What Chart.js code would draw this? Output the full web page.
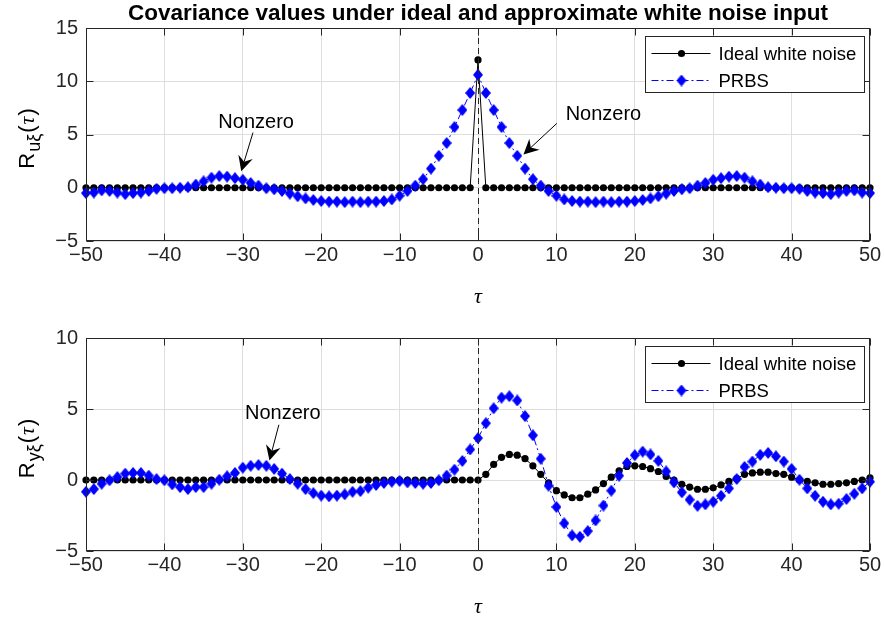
<!DOCTYPE html>
<html>
<head>
<meta charset="utf-8">
<script src="https://cdn.jsdelivr.net/npm/chart.js@4.4.0/dist/chart.umd.min.js"></script>
<style>
  html, body { margin: 0; padding: 0; background: #fff; }
  #wrap { position: relative; width: 884px; height: 619px; }
  .pane { position: absolute; left: 0; width: 884px; }
</style>
</head>
<body>
<div id="wrap">
  <div class="pane" style="top:0;height:310px"><canvas id="topChart" width="884" height="310"></canvas></div>
  <div class="pane" style="top:310px;height:309px"><canvas id="bottomChart" width="884" height="309"></canvas></div>
</div>
<script>
// lag axis
const tau = [
  -50, -49, -48, -47, -46, -45, -44, -43, -42, -41,
  -40, -39, -38, -37, -36, -35, -34, -33, -32, -31,
  -30, -29, -28, -27, -26, -25, -24, -23, -22, -21,
  -20, -19, -18, -17, -16, -15, -14, -13, -12, -11,
  -10, -9, -8, -7, -6, -5, -4, -3, -2, -1,
  0,
  1, 2, 3, 4, 5, 6, 7, 8, 9, 10,
  11, 12, 13, 14, 15, 16, 17, 18, 19, 20,
  21, 22, 23, 24, 25, 26, 27, 28, 29, 30,
  31, 32, 33, 34, 35, 36, 37, 38, 39, 40,
  41, 42, 43, 44, 45, 46, 47, 48, 49, 50
];

// R_u xi (top panel)
const ruIdeal = [
  0, 0, 0, 0, 0, 0, 0, 0, 0, 0,
  0, 0, 0, 0, 0, 0, 0, 0, 0, 0,
  0, 0, 0, 0, 0, 0, 0, 0, 0, 0,
  0, 0, 0, 0, 0, 0, 0, 0, 0, 0,
  0, 0, 0, 0, 0, 0, 0, 0, 0, 0,
  12,
  0, 0, 0, 0, 0, 0, 0, 0, 0, 0,
  0, 0, 0, 0, 0, 0, 0, 0, 0, 0,
  0, 0, 0, 0, 0, 0, 0, 0, 0, 0,
  0, 0, 0, 0, 0, 0, 0, 0, 0, 0,
  0, 0, 0, 0, 0, 0, 0, 0, 0, 0
];
const ruPrbs = [
  -0.5, -0.45, -0.25, -0.3, -0.45, -0.6, -0.5, -0.45, -0.3, -0.1,
  -0.05, -0.05, 0, 0.05, 0.3, 0.6, 0.95, 1.1, 1.05, 0.9,
  0.75, 0.45, 0.2, -0.05, -0.15, -0.3, -0.55, -0.8, -1.0, -1.15,
  -1.25, -1.3, -1.3, -1.35, -1.3, -1.35, -1.3, -1.3, -1.25, -1.1,
  -0.75, -0.3, 0.2, 0.8, 1.8, 3.0, 4.2, 5.7, 7.3, 8.9,
  10.6,
  8.9, 7.3, 5.7, 4.2, 3.0, 1.8, 0.8, 0.2, -0.3, -0.75,
  -1.1, -1.25, -1.3, -1.3, -1.35, -1.3, -1.35, -1.3, -1.3, -1.25,
  -1.15, -1.0, -0.8, -0.55, -0.3, -0.15, -0.05, 0.2, 0.45, 0.75,
  0.9, 1.05, 1.1, 0.95, 0.6, 0.3, 0.05, 0, -0.05, -0.05,
  -0.1, -0.3, -0.45, -0.5, -0.6, -0.45, -0.3, -0.25, -0.45, -0.5
];

// R_y xi (bottom panel)
const ryIdeal = [
  0, 0, 0, 0, 0, 0, 0, 0, 0, 0,
  0, 0, 0, 0, 0, 0, 0, 0, 0, 0,
  0, 0, 0, 0, 0, 0, 0, 0, 0, 0,
  0, 0, 0, 0, 0, 0, 0, 0, 0, 0,
  0, 0, 0, 0, 0, 0, 0, 0, 0, 0,
  0,
  0.4, 1.1, 1.6, 1.8, 1.75, 1.5, 1.0, 0.4, -0.2, -0.75,
  -1.05, -1.25, -1.25, -1.0, -0.7, -0.25, 0.2, 0.65, 0.95, 1.0,
  0.95, 0.8, 0.6, 0.25, 0, -0.3, -0.5, -0.65, -0.65, -0.55,
  -0.35, -0.1, 0.1, 0.4, 0.5, 0.55, 0.55, 0.45, 0.4, 0.2,
  0, -0.1, -0.2, -0.3, -0.3, -0.25, -0.2, -0.1, 0, 0.15
];
const ryPrbs = [
  -0.83, -0.64, -0.26, -0.02, 0.21, 0.45, 0.5, 0.5, 0.31, 0.07,
  -0.02, -0.31, -0.5, -0.64, -0.5, -0.5, -0.26, 0.02, 0.26, 0.5,
  0.87, 1.0, 1.06, 1.0, 0.78, 0.45, 0.07, -0.26, -0.64, -0.92,
  -1.1, -1.15, -1.1, -1.01, -0.83, -0.78, -0.54, -0.35, -0.21, -0.12,
  -0.07, -0.17, -0.21, -0.26, -0.21, -0.02, 0.31, 0.73, 1.34, 2.15,
  2.95,
  4.0, 5.05, 5.8, 5.9, 5.6, 4.5, 3.15, 1.5, -0.4, -1.9,
  -3.05, -3.9, -4.0, -3.6, -2.85, -1.8, -0.75, 0.3, 1.2, 1.75,
  2.0, 1.8, 1.35, 0.6, -0.17, -0.87, -1.39, -1.82, -1.72, -1.53,
  -1.11, -0.59, 0.07, 0.92, 1.3, 1.77, 1.91, 1.67, 1.3, 0.78,
  0.02, -0.59, -1.11, -1.53, -1.72, -1.67, -1.34, -0.97, -0.59, -0.12
];

const seriesNames = ['Ideal white noise', 'PRBS'];
const xRange = [-50, 50];
const topYRange = [-5, 15];
const bottomYRange = [-5, 10];
const tickStep = { x: 10, y: 5 };

// "Nonzero" notes: text anchor, arrow tail, arrow tip (data coords)
const topNotes = [
  { text: 'Nonzero', at: [-28.3, 5.6], from: [-28.7, 5.18], to: [-30.2, 1.55] },
  { text: 'Nonzero', at: [16.0, 6.35], from: [10.05, 6.04], to: [5.8, 3.13] }
];
const bottomNotes = [
  { text: 'Nonzero', at: [-24.9, 4.32], from: [-25.4, 3.89], to: [-26.6, 1.37] }
];

const AX = '#262626';
const FONT = '"Liberation Sans", Arial, Helvetica, sans-serif';
const SERIF_I = 'italic 22px "Liberation Serif", "DejaVu Serif", serif';

// tall diamond marker like MATLAB's 'd'
const diamond = document.createElement('canvas');
diamond.width = 10; diamond.height = 12;
(function () {
  const c = diamond.getContext('2d');
  c.fillStyle = '#0000ff';
  c.beginPath();
  c.moveTo(5, 0); c.lineTo(10, 6); c.lineTo(5, 12); c.lineTo(0, 6);
  c.closePath(); c.fill();
})();

function pts(vals) {
  return tau.map((t, i) => ({ x: t, y: vals[i] }));
}

// MATLAB prints negatives with a real minus sign
function tickText(v) {
  return String(v).replace('-', '\u2212');
}

function drawArrow(ctx, x1, y1, x2, y2) {
  const ang = Math.atan2(y2 - y1, x2 - x1);
  const L = 15, W = 7.5, back = 5;
  ctx.beginPath();
  ctx.moveTo(x1, y1);
  ctx.lineTo(x2 - Math.cos(ang) * (L - back), y2 - Math.sin(ang) * (L - back));
  ctx.stroke();
  ctx.save();
  ctx.translate(x2, y2);
  ctx.rotate(ang);
  ctx.beginPath();
  ctx.moveTo(0, 0);
  ctx.lineTo(-L, -W);
  ctx.lineTo(-L + back, 0);
  ctx.lineTo(-L, W);
  ctx.closePath();
  ctx.fill();
  ctx.restore();
}

const matlabAxes = {
  id: 'matlabAxes',
  afterDatasetsDraw(chart, args, opts) {
    const ctx = chart.ctx, a = chart.chartArea;
    const xs = chart.scales.x, ys = chart.scales.y;
    ctx.save();

    // dashed line at tau = 0
    const x0 = Math.round(xs.getPixelForValue(0)) + 0.5;
    ctx.strokeStyle = AX;
    ctx.lineWidth = 1;
    ctx.setLineDash([6, 4]);
    ctx.beginPath();
    ctx.moveTo(x0, a.top);
    ctx.lineTo(x0, a.bottom);
    ctx.stroke();
    ctx.setLineDash([]);

    // annotations
    ctx.fillStyle = '#000';
    ctx.strokeStyle = '#000';
    ctx.font = '20px ' + FONT;
    ctx.textAlign = 'center';
    ctx.textBaseline = 'alphabetic';
    opts.notes.forEach(n => {
      ctx.fillText(n.text, xs.getPixelForValue(n.at[0]), ys.getPixelForValue(n.at[1]));
      drawArrow(ctx,
        xs.getPixelForValue(n.from[0]), ys.getPixelForValue(n.from[1]),
        xs.getPixelForValue(n.to[0]), ys.getPixelForValue(n.to[1]));
    });

    // box and inward ticks
    const L = Math.round(a.left) + 0.5, R = Math.round(a.right) - 0.5;
    const T = Math.round(a.top) + 0.5, B = Math.round(a.bottom) - 0.5;
    ctx.strokeStyle = AX;
    ctx.lineWidth = 1;
    ctx.strokeRect(L, T, R - L, B - T);
    const tl = 7;
    ctx.beginPath();
    xs.ticks.forEach(t => {
      const px = Math.round(xs.getPixelForValue(t.value)) + 0.5;
      ctx.moveTo(px, B); ctx.lineTo(px, B - tl);
      ctx.moveTo(px, T); ctx.lineTo(px, T + tl);
    });
    ys.ticks.forEach(t => {
      const py = Math.round(ys.getPixelForValue(t.value)) + 0.5;
      ctx.moveTo(L, py); ctx.lineTo(L + tl, py);
      ctx.moveTo(R, py); ctx.lineTo(R - tl, py);
    });
    ctx.stroke();

    // legend inside the upper-right corner
    const lw = 219, lh = 56;
    const lx = Math.round(a.right - 6 - lw) + 0.5, ly = Math.round(a.top + 8) + 0.5;
    ctx.fillStyle = '#fff';
    ctx.fillRect(lx, ly, lw, lh);
    ctx.strokeStyle = AX;
    ctx.strokeRect(lx, ly, lw, lh);
    const rows = [ly + 16.5, ly + 43];
    chart.data.datasets.forEach((ds, i) => {
      const ry = Math.round(rows[i]) + 0.5;
      ctx.strokeStyle = ds.borderColor;
      ctx.setLineDash(ds.borderDash || []);
      ctx.beginPath();
      ctx.moveTo(lx + 6, ry);
      ctx.lineTo(lx + 65, ry);
      ctx.stroke();
      ctx.setLineDash([]);
      const mx = lx + 36;
      if (ds.pointStyle === 'circle') {
        ctx.fillStyle = ds.backgroundColor;
        ctx.beginPath();
        ctx.arc(mx, ry, ds.pointRadius, 0, Math.PI * 2);
        ctx.fill();
      } else {
        ctx.drawImage(diamond, mx - 5, ry - 6);
      }
      ctx.fillStyle = '#000';
      ctx.font = '18.5px ' + FONT;
      ctx.textAlign = 'left';
      ctx.textBaseline = 'middle';
      ctx.fillText(ds.label, lx + 73, ry + 1);
    });
    ctx.restore();
  },
  afterDraw(chart, args, opts) {
    const ctx = chart.ctx, a = chart.chartArea;
    const cx = (a.left + a.right) / 2;
    ctx.save();
    ctx.fillStyle = '#000';

    // x label
    ctx.font = SERIF_I;
    ctx.textAlign = 'center';
    ctx.textBaseline = 'middle';
    ctx.fillText('\u03c4', cx, a.bottom + 56);

    // y label R_{sub}(tau), rotated
    const big = '22px ' + FONT, small = '18px ' + FONT;
    const parts = [
      { t: 'R', f: big, dy: 0 },
      { t: opts.sub, f: small, dy: 6 },
      { t: '(', f: big, dy: 0 },
      { t: '\u03c4', f: SERIF_I, dy: 0 },
      { t: ')', f: big, dy: 0 }
    ];
    let total = 0;
    parts.forEach(p => { ctx.font = p.f; p.w = ctx.measureText(p.t).width; total += p.w; });
    const cy = (a.top + a.bottom) / 2 + 6;
    ctx.translate(34, cy);
    ctx.rotate(-Math.PI / 2);
    ctx.textAlign = 'left';
    ctx.textBaseline = 'alphabetic';
    let x = -total / 2;
    parts.forEach(p => {
      ctx.font = p.f;
      ctx.fillText(p.t, x, p.dy);
      x += p.w + 1;
    });
    ctx.setTransform(1, 0, 0, 1, 0, 0);

    // title
    if (opts.title) {
      ctx.font = 'bold 22.5px ' + FONT;
      ctx.textAlign = 'center';
      ctx.textBaseline = 'alphabetic';
      ctx.fillText(opts.title, cx, 20);
    }
    ctx.restore();
  }
};

function makeChart(id, ideal, prbs, yRange, axisH, extra) {
  return new Chart(document.getElementById(id), {
    type: 'line',
    data: {
      datasets: [
        {
          label: seriesNames[0], data: pts(ideal),
          borderColor: '#000', backgroundColor: '#000', borderWidth: 1,
          pointStyle: 'circle', pointRadius: 3.6, pointBorderWidth: 0,
          tension: 0, order: 2, clip: false
        },
        {
          label: seriesNames[1], data: pts(prbs),
          borderColor: '#0000ff', backgroundColor: '#0000ff', borderWidth: 1,
          borderDash: [7, 3, 2, 3],
          pointStyle: diamond, pointRadius: 5,
          tension: 0, order: 1, clip: false
        }
      ]
    },
    options: {
      responsive: false,
      animation: false,
      devicePixelRatio: 1,
      layout: { padding: { left: 0, right: 14, top: 28, bottom: 0 } },
      plugins: {
        legend: { display: false },
        tooltip: { enabled: false },
        matlabAxes: extra
      },
      scales: {
        x: {
          type: 'linear', min: xRange[0], max: xRange[1],
          afterFit: s => { s.height = axisH; },
          ticks: {
            stepSize: tickStep.x, color: AX, font: { size: 20, family: FONT },
            padding: 2, maxRotation: 0, autoSkip: false, callback: tickText
          },
          grid: { color: '#dedede', drawTicks: false },
          border: { display: false }
        },
        y: {
          min: yRange[0], max: yRange[1],
          afterFit: s => { s.width = 86; },
          ticks: {
            stepSize: tickStep.y, color: AX, font: { size: 20, family: FONT },
            padding: 8, callback: tickText
          },
          grid: { color: '#dedede', drawTicks: false },
          border: { display: false }
        }
      }
    },
    plugins: [matlabAxes]
  });
}

makeChart('topChart', ruIdeal, ruPrbs, topYRange, 69, {
  notes: topNotes, sub: 'u\u03be',
  title: 'Covariance values under ideal and approximate white noise input'
});
makeChart('bottomChart', ryIdeal, ryPrbs, bottomYRange, 68, {
  notes: bottomNotes, sub: 'y\u03be', title: null
});
</script>
</body>
</html>
